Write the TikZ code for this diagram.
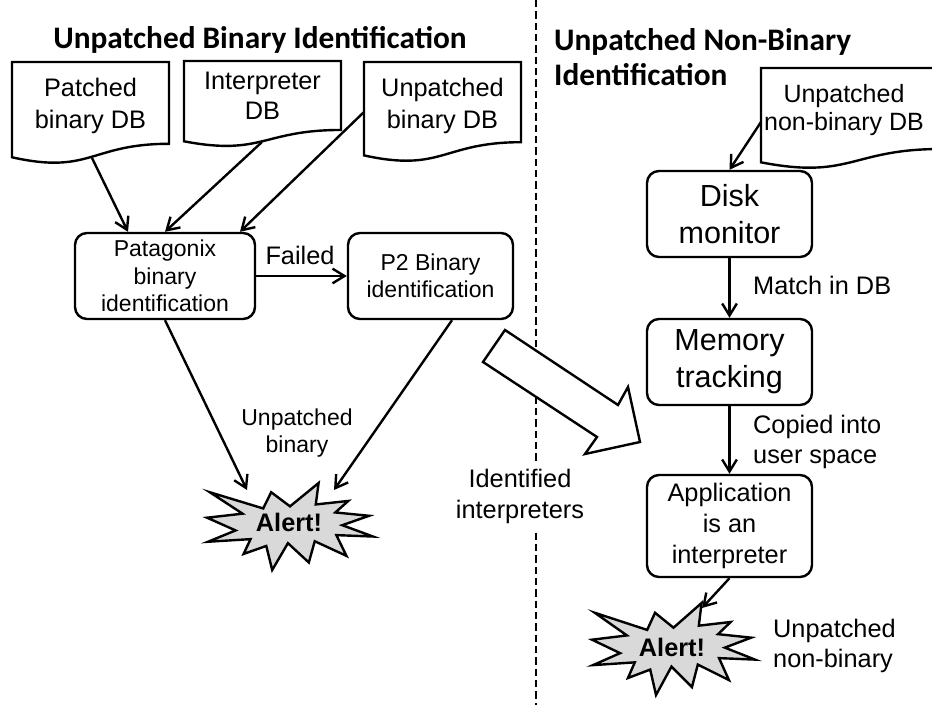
\documentclass[tikz,border=0pt]{standalone}
\usepackage{fontspec}
\setmainfont{Liberation Sans}
\newfontfamily\titlefont{Carlito}
\usetikzlibrary{arrows.meta,calc}
\newcommand\docpath[4]{%
  \draw[docline] (#1,#2) -- ({#1+#3},#2) -- ({#1+#3},{#2+0.802*#4})
    .. controls ({#1+#3/2},{#2+0.802*#4}) and ({#1+#3/2},{#2+1.107*#4}) .. (#1,{#2+0.934*#4}) -- cycle;}
\newcommand\boomshape[4]{%
  \begin{scope}[shift={(#1,#2)},xscale=#3/100,yscale=#4/100]
  \draw[boom] (50.00,26.85) -- (67.23,0) -- (65.53,24.65) -- (85.09,20.63) -- (77.32,33.87)
   -- (97.67,37.67) -- (81.51,48.50) -- (100,61.53) -- (77.95,59.92) -- (84.00,83.77)
   -- (64.91,66.93) -- (61.33,91.38) -- (48.76,69.14) -- (39.28,100) -- (35.72,72.35)
   -- (22.05,81.56) -- (26.24,64.52) -- (0.63,67.53) -- (17.23,54.51) -- (0,39.88)
   -- (21.42,35.26) -- (1.71,10.63) -- (33.85,29.26) -- (38.67,10.63) -- cycle;
  \end{scope}}
\begin{document}
\begin{tikzpicture}[x=0.75pt,y=-0.75pt,line width=1.8pt,line join=miter,
  box/.style={draw,rounded corners=9pt,line width=1.8pt,align=center,inner sep=0pt},
  lbl/.style={inner sep=0pt,align=center},
  docline/.style={draw,line width=1.8pt,fill=white},
  boom/.style={draw,line width=1.8pt,fill=black!15,line join=miter},
  arr/.style={-{Straight Barb[length=9pt,width=11pt,line width=1.8pt]},line width=1.8pt},
  fdoc/.style={font=\fontsize{19}{23.8}\selectfont},
  fbox/.style={font=\fontsize{17.25}{20.6}\selectfont},
  fbig/.style={font=\fontsize{22.9}{27.5}\selectfont},
  flab/.style={font=\fontsize{19}{22.5}\selectfont},
  ftitle/.style={font=\titlefont\bfseries\fontsize{23.5}{26.25}\selectfont}]
\useasboundingbox (0,0) rectangle (932,705);

% separator
\draw[dash pattern=on 5.5pt off 3pt,line width=1.8pt] (536,0) -- (536,705);

% titles
\node[lbl,ftitle,anchor=base] (t1) at (260,49) {Unpatched Binary Identification};
\node[lbl,ftitle,anchor=north west,align=left] (t2) at (553,27) {Unpatched Non-Binary\\Identification};

% documents
\docpath{12}{62}{157}{102}
\node[lbl,fdoc] (pdb) at (90.5,106) {Patched\\binary DB};
\docpath{184}{61}{157}{86}
\node[lbl,fdoc,font=\fontsize{19}{22.5}\selectfont] (idb) at (262.5,96) {Interpreter\\DB};
\docpath{364}{62}{157}{100}
\node[lbl,fdoc] (udb) at (442.5,106) {Unpatched\\binary DB};
\docpath{761}{68}{180}{101}
\node[lbl,fdoc,font=\fontsize{18.75}{21}\selectfont] (ndb) at (844,110.5) {Unpatched\\non-binary DB};
\coordinate (pdb-o) at (92,158);
\coordinate (idb-o) at (262,142);
\coordinate (udb-o) at (364,112);
\coordinate (ndb-o) at (761,122);

% left boxes
\node[box,fbox,minimum width=180*0.75pt,minimum height=86*0.75pt] (pat) at (165,276) {Patagonix\\binary\\identification};
\node[box,fbox,minimum width=165*0.75pt,minimum height=86*0.75pt] (p2) at (430.5,276) {P2 Binary\\identification};

% right boxes
\node[box,fbig,minimum width=165*0.75pt,minimum height=86*0.75pt] (disk) at (729.5,214) {Disk\\monitor};
\node[box,fbig,minimum width=165*0.75pt,minimum height=86*0.75pt] (mem) at (729.5,362) {Memory\\tracking};
\node[box,fdoc,font=\fontsize{19}{23.25}\selectfont,minimum width=165*0.75pt,minimum height=102*0.75pt] (app) at (729.5,526) {Application\\is an\\interpreter};

% alerts
\boomshape{207}{483}{166}{87}
\node[lbl,font=\bfseries\fontsize{19}{22}\selectfont,anchor=base] (alertL) at (289,532) {Alert!};
\boomshape{592}{603}{163}{92}
\node[lbl,font=\bfseries\fontsize{19}{22}\selectfont,anchor=base] (alertR) at (672,657) {Alert!};
\coordinate (aL1) at (247,490);
\coordinate (aL2) at (334,490);
\coordinate (aR1) at (702,608);

% connectors
\draw[arr] (pdb-o) -- ($(pat.north)+(-37,0)$);
\draw[arr] (idb-o) -- (pat.north);
\draw[arr] (udb-o) -- ($(pat.north)+(75,0)$);
\draw[arr] (pat.east) -- (p2.west);
\node[lbl,flab,anchor=base] (failed) at (300,265) {Failed};
\draw[arr] (pat.south) -- (aL1);
\draw[arr] ($(p2.south)+(21.5,0)$) -- (aL2);
\node[lbl,fbox] (ub) at (297,433) {Unpatched\\binary};

\draw[arr] (ndb-o) -- (disk.north);
\draw[arr] (disk.south) -- (mem.north);
\node[lbl,flab,anchor=base west] (match) at (752,295) {Match in DB};
\draw[arr] (mem.south) -- (app.north);
\node[lbl,flab,align=left,anchor=west] (copied) at (752,441.6) {Copied into\\user space};
\draw[arr] (app.south) -- (aR1);
\node[lbl,flab,align=left,anchor=west] (unb) at (772,646.4) {Unpatched\\non-binary};

% big hollow arrow
\draw[line width=1.8pt,fill=white,line join=miter] (505,330) -- (618,405) -- (628,387) -- (640,442) -- (585,454) -- (597,437) -- (483,362) -- cycle;
\node[lbl,flab,fill=white,inner ysep=5pt,font=\fontsize{19}{23.25}\selectfont] (ident) at (520,496) {Identified\\interpreters};
\end{tikzpicture}
\end{document}
